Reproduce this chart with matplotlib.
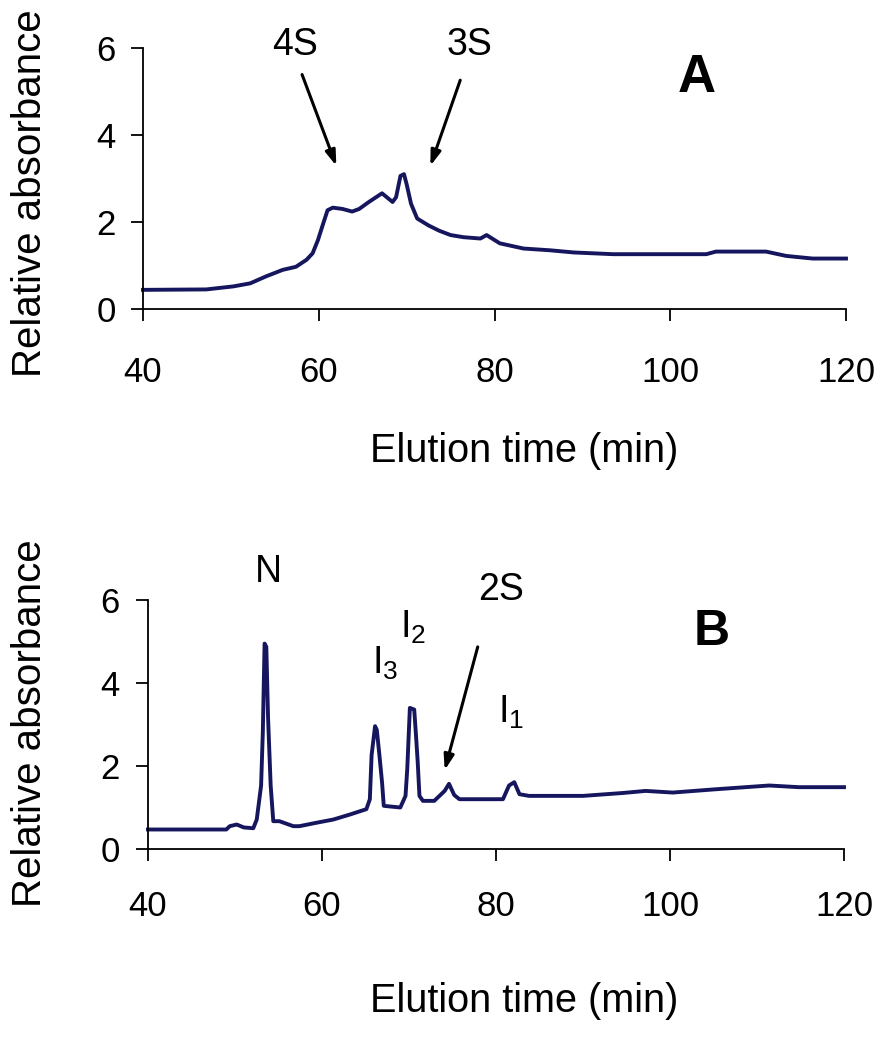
import matplotlib
matplotlib.use("Agg")
import matplotlib.pyplot as plt

plt.rcParams['font.family'] = ['Liberation Sans', 'DejaVu Sans']

# panel A chromatogram (elution time in min, relative absorbance)
time_a = [40, 47.2, 50.3, 52.2, 54, 55.9, 57.4, 58.6, 59.3, 59.9, 60.5, 61, 61.6,
          62.7, 63.8, 64.6, 65.7, 67.2, 68.4, 68.8, 69.3, 69.7, 70.0, 70.5, 71.2,
          72.5, 73.7, 75, 76.5, 78.4, 79.1, 80.6, 83.3, 86.3, 89, 93.5, 104.1,
          105.2, 110.9, 113.2, 116.2, 120]
abs_a = [0.44, 0.45, 0.52, 0.59, 0.75, 0.9, 0.97, 1.13, 1.28, 1.58, 1.96, 2.27, 2.33,
         2.3, 2.24, 2.3, 2.46, 2.66, 2.46, 2.57, 3.06, 3.1, 2.87, 2.42, 2.08,
         1.92, 1.8, 1.7, 1.65, 1.62, 1.70, 1.51, 1.39, 1.35, 1.30, 1.26, 1.26,
         1.32, 1.32, 1.22, 1.16, 1.16]

# panel B chromatogram
time_b = [40, 49.0, 49.4, 50.2, 51, 52.1, 52.5, 53.0, 53.2, 53.4, 53.6, 53.8, 54.1,
          54.4, 55.1, 56.7, 57.4, 59.3, 61.3, 63.2, 65.1, 65.5, 65.7, 66.1, 66.3,
          66.6, 66.9, 67.1, 69.0, 69.6, 69.8, 70.1, 70.6, 70.8, 71.0, 71.2, 71.6,
          72.9, 73.5, 74.1, 74.6, 75.2, 75.8, 80.8, 81.5, 82.1, 82.7, 83.8, 90,
          94.6, 97.2, 100.3, 105.3, 111.4, 114.8, 120]
abs_b = [0.47, 0.47, 0.55, 0.59, 0.52, 0.5, 0.71, 1.53, 2.83, 4.95, 4.87, 3.16, 1.53,
         0.67, 0.67, 0.55, 0.55, 0.63, 0.71, 0.83, 0.96, 1.2, 2.26, 2.96, 2.87,
         2.26, 1.61, 1.04, 1.0, 1.28, 1.93, 3.4, 3.36, 2.75, 2.1, 1.28, 1.16,
         1.16, 1.28, 1.4, 1.57, 1.3, 1.2, 1.2, 1.53, 1.61, 1.32, 1.28, 1.28,
         1.35, 1.40, 1.36, 1.44, 1.53, 1.49, 1.49]

x_ticks = [40, 60, 80, 100, 120]
y_ticks = [0, 2, 4, 6]
xlabel = "Elution time (min)"
ylabel = "Relative absorbance"

line_col = '#16165e'
W, H = 892, 1050

fig = plt.figure(figsize=(8.92, 10.5), dpi=100)
ax_a = fig.add_axes([143 / W, 1 - 309 / H, 703 / W, 261 / H])
ax_b = fig.add_axes([148 / W, 1 - 849 / H, 696 / W, 249 / H])


def style_axes(ax, xpad, ypad):
    ax.set_xlim(40, 120)
    ax.set_ylim(0, 6)
    ax.set_xticks(x_ticks)
    ax.set_yticks(y_ticks)
    for s in ['top', 'right']:
        ax.spines[s].set_visible(False)
    for s in ['left', 'bottom']:
        ax.spines[s].set_linewidth(1.3)
        ax.spines[s].set_color('black')
    ax.tick_params(axis='both', direction='out', length=8.5, width=1.3, labelsize=25)
    ax.tick_params(axis='x', pad=xpad)
    ax.tick_params(axis='y', pad=ypad)


ax_a.plot(time_a, abs_a, color=line_col, lw=2.8, clip_on=False)
style_axes(ax_a, 25, 11)
ax_b.plot(time_b, abs_b, color=line_col, lw=2.8, clip_on=False)
style_axes(ax_b, 21, 12)

arrow = dict(arrowstyle='-|>,head_length=0.9,head_width=0.3', color='black', lw=2.2,
             shrinkA=0, shrinkB=0)

# panel A annotations
ax_a.text(57.3, 6.08, "4S", fontsize=27, ha='center', va='center', clip_on=False)
ax_a.text(77.2, 6.08, "3S", fontsize=27, ha='center', va='center', clip_on=False)
ax_a.annotate("", xy=(62.0, 3.29), xytext=(58.1, 5.39), arrowprops=arrow)
ax_a.annotate("", xy=(72.7, 3.29), xytext=(76.1, 5.26), arrowprops=arrow)
ax_a.text(103.0, 5.31, "A", fontsize=38, fontweight='bold', ha='center', va='center')

# panel B annotations
ax_b.text(53.8, 6.67, "N", fontsize=27, ha='center', va='center', clip_on=False)
ax_b.text(80.6, 6.24, "2S", fontsize=27, ha='center', va='center', clip_on=False)
ax_b.annotate("", xy=(74.1, 1.9), xytext=(77.9, 4.87), arrowprops=arrow)
ax_b.text(69.0, 5.33, r"I$_{\mathregular{2}}$", fontsize=27, ha='left', va='center')
ax_b.text(65.7, 4.48, r"I$_{\mathregular{3}}$", fontsize=27, ha='left', va='center')
ax_b.text(80.2, 3.3, r"I$_{\mathregular{1}}$", fontsize=27, ha='left', va='center')
ax_b.text(104.8, 5.23, "B", fontsize=36, fontweight='bold', ha='center', va='center')

# axis titles placed by pixel position
fig.text(30 / W, 1 - 193 / H, ylabel, fontsize=29, rotation=90, ha='center', va='center')
fig.text(30 / W, 1 - 723 / H, ylabel, fontsize=29, rotation=90, ha='center', va='center')
fig.text(524 / W, 1 - 451 / H, xlabel, fontsize=28.5, ha='center', va='center')
fig.text(524 / W, 1 - 1001 / H, xlabel, fontsize=28.5, ha='center', va='center')

fig.savefig("out.png", dpi=100)
